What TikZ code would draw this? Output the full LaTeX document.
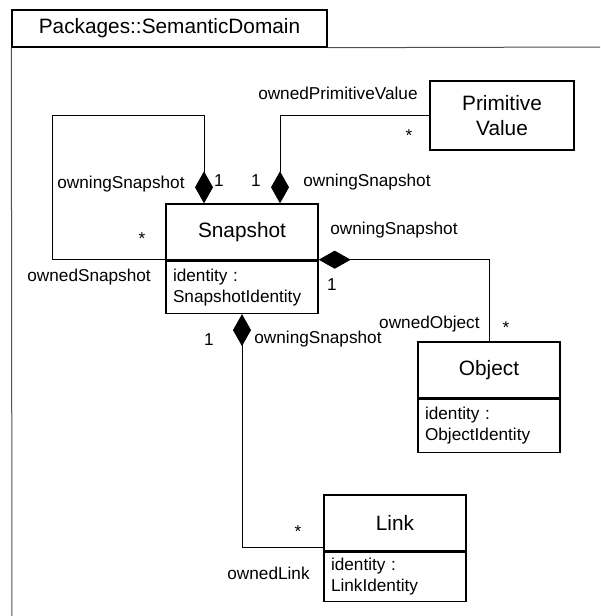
\documentclass[tikz,border=0pt]{standalone}
\usepackage{fontspec}
\setmainfont{Liberation Sans}
\usepackage{tikz}
\usetikzlibrary{positioning,arrows.meta,calc}
\definecolor{framegrey}{RGB}{80,80,80}
\newcommand{\lblfont}{\fontsize{8.6}{10.5}\selectfont}
\newcommand{\clsfont}{\fontsize{10.4}{12.2}\selectfont}
\tikzset{
  cls/.style  ={draw=black, line width=0.7pt, align=center, font=\clsfont, inner sep=0pt},
  attr/.style ={draw=black, line width=0.7pt, align=left, font=\lblfont,
                inner xsep=3.5pt, inner ysep=0pt, anchor=north},
  comp/.style ={{Diamond[length=16pt,width=9pt]}-, draw=black, line width=0.5pt},
  frame/.style={draw=framegrey, line width=0.5pt},
  lbl/.style  ={font=\lblfont, inner sep=0pt},
}

\begin{document}
\begin{tikzpicture}[x=0.5pt,y=-0.5pt]
\useasboundingbox (0,0) rectangle (600,616);
% ---------- package frame ----------
\node[cls, minimum width=157.5pt, minimum height=18.5pt] (pkgTab) at (169.5,28.5) {Packages::SemanticDomain};
\draw[frame] (pkgTab.south west) -- (12,616);
\draw[frame] (pkgTab.south east) -- (600,47);

% ---------- classes ----------
\node[cls, minimum width=76pt, minimum height=28pt] (snapName) at (242,232) {Snapshot};
\node[attr, text width=69pt, minimum height=26pt] (snapAttr) at (snapName.south) {identity :\\SnapshotIdentity};

\node[cls, minimum width=72pt, minimum height=34.5pt] (primVal) at (502,115.5) {Primitive\\Value};

\node[cls, minimum width=71pt, minimum height=28pt] (objName) at (489,370) {Object};
\node[attr, text width=64pt, minimum height=26.5pt] (objAttr) at (objName.south) {identity :\\ObjectIdentity};

\node[cls, minimum width=71pt, minimum height=28pt] (linkName) at (395,523) {Link};
\node[attr, text width=64pt, minimum height=24.5pt] (linkAttr) at (linkName.south) {identity :\\LinkIdentity};

% ---------- compositions ----------
\coordinate (loopCorner) at (52,115);
\draw[comp] ($(snapName.north)+(-38,0)$) |- (loopCorner) |- ($(snapName.south west)+(0,-1.5)$);
\draw[comp] ($(snapName.north)+(38,0)$) |- (primVal.west);
\draw[comp] ($(snapName.south east)+(0,-1)$) -| (objName.north);
\draw[comp] (snapAttr.south) |- ($(linkName.south west)+(0,-4)$);

% ---------- role names and multiplicities ----------
\node[lbl, anchor=west] (lOwnSelf) at (57,184) {owningSnapshot};
\node[lbl] (mOneSelf) at (219,181) {1};
\node[lbl] (mStarSelf) at (142,239) {*};
\node[lbl, anchor=west] (lOwnedSelf) at (27,277) {ownedSnapshot};

\node[lbl] (mOnePrim) at (256,181) {1};
\node[lbl, anchor=west] (lOwnPrim) at (303,182) {owningSnapshot};
\node[lbl, anchor=east] (lOwnedPrim) at (418,93) {ownedPrimitiveValue};
\node[lbl] (mStarPrim) at (409,136) {*};

\node[lbl, anchor=west] (lOwnObj) at (330,230) {owningSnapshot};
\node[lbl] (mOneObj) at (332,285) {1};
\node[lbl, anchor=east] (lOwnedObj) at (480,324) {ownedObject};
\node[lbl] (mStarObj) at (506,328) {*};

\node[lbl] (mOneLink) at (209,340) {1};
\node[lbl, anchor=west] (lOwnLink) at (254,339) {owningSnapshot};
\node[lbl] (mStarLink) at (298,532) {*};
\node[lbl, anchor=west] (lOwnedLink) at (227,573) {ownedLink};
\end{tikzpicture}
\end{document}
